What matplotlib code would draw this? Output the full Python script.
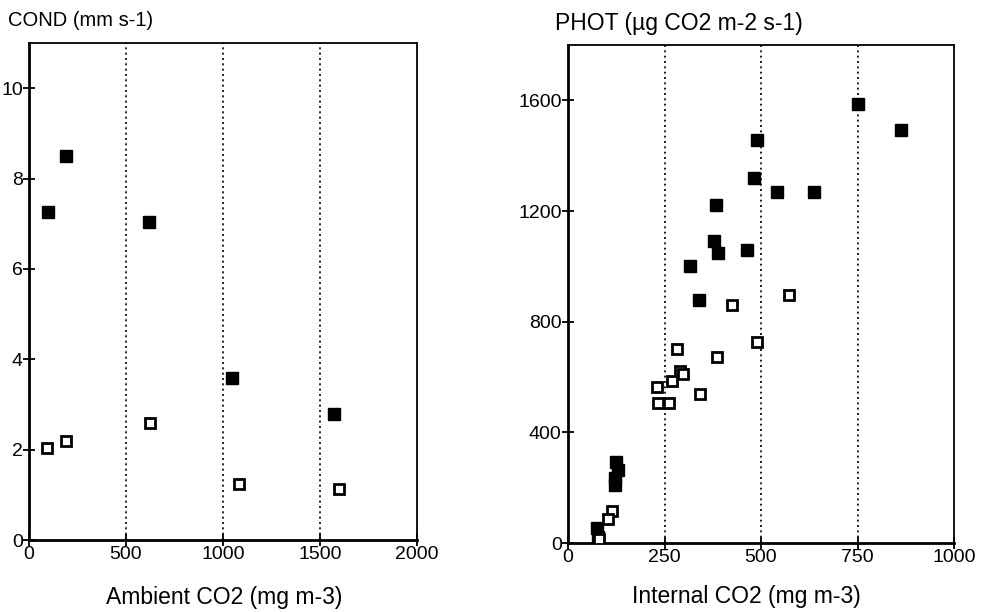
import matplotlib
matplotlib.use('Agg')
import matplotlib.pyplot as plt

plt.rcParams['font.family'] = ['Liberation Sans', 'DejaVu Sans']

# Left panel: conductance vs ambient CO2
amb_filled_x = [98, 190, 618, 1045, 1570]
amb_filled_y = [7.27, 8.5, 7.05, 3.59, 2.79]
amb_open_x = [95, 190, 625, 1080, 1600]
amb_open_y = [2.04, 2.2, 2.6, 1.24, 1.13]

# Right panel: photosynthesis vs internal CO2
int_filled_x = [752, 862, 489, 483, 541, 637, 384, 377, 389, 464, 317, 339,
                125, 130, 121, 121, 74, 78]
int_filled_y = [1588, 1492, 1458, 1319, 1270, 1270, 1222, 1091, 1048, 1058, 1000, 880,
                292, 264, 235, 210, 53, 23]
int_open_x = [426, 573, 489, 282, 385, 290, 299, 269, 231, 232, 262, 341,
              115, 104, 80]
int_open_y = [861, 896, 725, 703, 671, 621, 610, 586, 565, 505, 507, 538,
              117, 86, 13]

fig = plt.figure(figsize=(9.81, 6.12), dpi=100)
ax1 = fig.add_axes([0.0296, 0.1176, 0.3955, 0.812])
ax2 = fig.add_axes([0.579, 0.1127, 0.3935, 0.8137])


def style(ax, xticks, yticks, grid_x):
    for x in grid_x:
        ax.axvline(x, color='black', linestyle=(0, (1.2, 2.0)), linewidth=1.2, zorder=1)
    ax.set_xticks(xticks)
    ax.set_yticks(yticks)
    ax.tick_params(direction='inout', length=9, width=1.3, labelsize=14, pad=0)
    for side in ['left', 'bottom']:
        ax.spines[side].set_linewidth(2)
    for side in ['top', 'right']:
        ax.spines[side].set_linewidth(1.3)


ax1.plot(amb_filled_x, amb_filled_y, 's', color='black', markersize=8, zorder=3)
ax1.plot(amb_open_x, amb_open_y, 's', markerfacecolor='white', markeredgecolor='black',
         markeredgewidth=2, markersize=7.5, zorder=3)
ax1.set_xlim(0, 2000)
ax1.set_ylim(0, 11)
style(ax1, [0, 500, 1000, 1500, 2000], [0, 2, 4, 6, 8, 10], [500, 1000, 1500])

ax2.plot(int_filled_x, int_filled_y, 's', color='black', markersize=8, zorder=3)
ax2.plot(int_open_x, int_open_y, 's', markerfacecolor='white', markeredgecolor='black',
         markeredgewidth=2, markersize=7.5, zorder=3)
ax2.set_xlim(0, 1000)
ax2.set_ylim(0, 1800)
style(ax2, [0, 250, 500, 750, 1000], [0, 400, 800, 1200, 1600], [250, 500, 750])

fig.text(0.008, 0.966, 'COND (mm s-1)', fontsize=14.5, va='center', ha='left')
fig.text(0.566, 0.962, 'PHOT (\u00b5g CO2 m-2 s-1)', fontsize=16.5, va='center', ha='left')
fig.text(0.229, 0.024, 'Ambient CO2 (mg m-3)', fontsize=16.5, va='center', ha='center')
fig.text(0.761, 0.026, 'Internal CO2 (mg m-3)', fontsize=16.5, va='center', ha='center')

plt.savefig('out.png', dpi=100)
